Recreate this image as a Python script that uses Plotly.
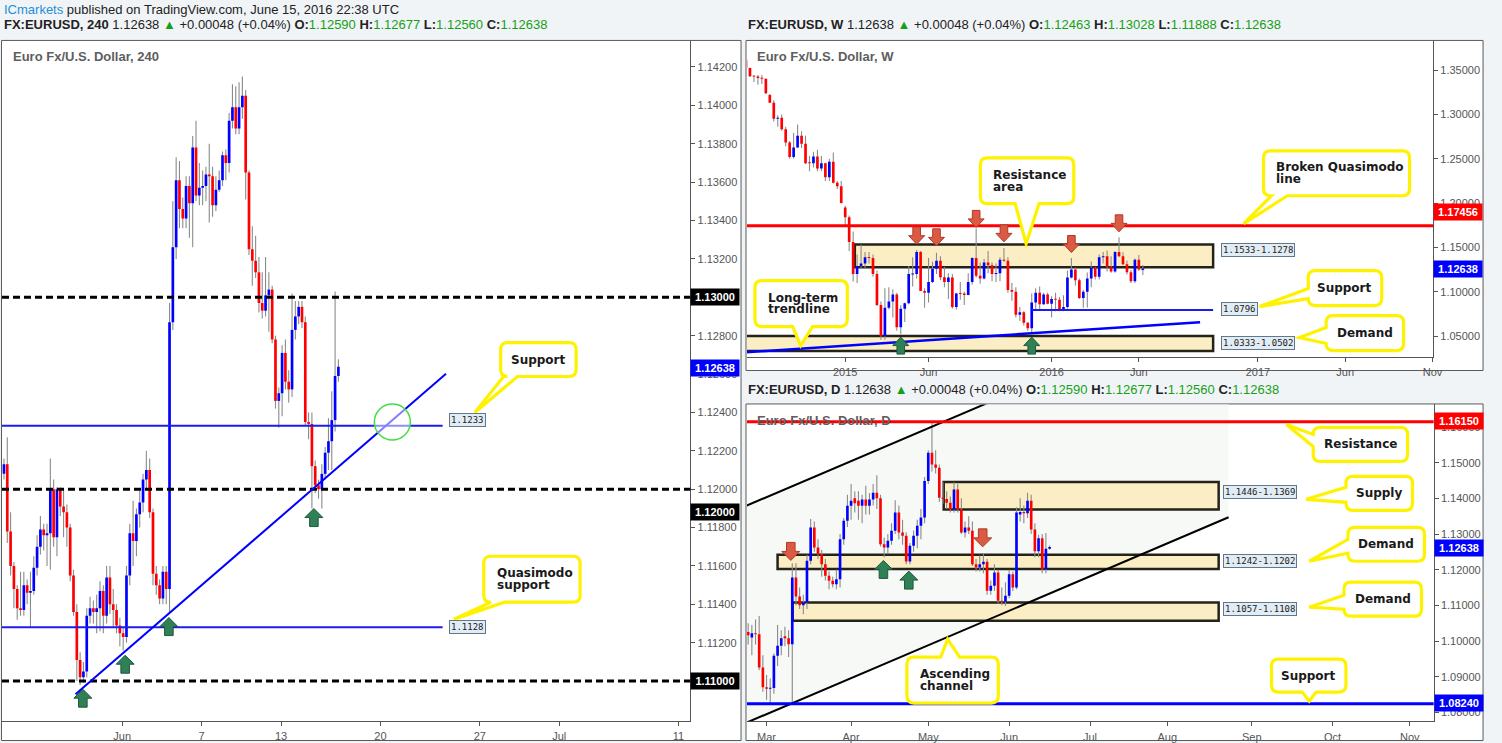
import numpy as np
import pandas as pd
import plotly.graph_objects as go

W, H = 1502, 743
PAGE_BG = "#F1F4F7"
UP, DN, WICK = "#0000FF", "#FF0000", "#8A8A8A"
FRAME = "#5A5A5A"
AX = "#555555"
TICKFONT = dict(family="Liberation Sans, Arial, sans-serif", size=11, color="#555555")

# ---------------- 4h data (EURUSD, 240) ----------------
h4_open = [
    1.1208, 1.1213, 1.1178, 1.1160, 1.1148, 1.1138, 1.1137, 1.1150, 1.1146, 1.1147,
    1.1159, 1.1170, 1.1179, 1.1176, 1.1177, 1.1200, 1.1175, 1.1200, 1.1191, 1.1188,
    1.1180, 1.1155, 1.1136, 1.1111, 1.1102, 1.1105, 1.1134, 1.1138, 1.1136, 1.1138,
    1.1147, 1.1134, 1.1154, 1.1140, 1.1137, 1.1129, 1.1125, 1.1123, 1.1155, 1.1177,
    1.1173, 1.1187, 1.1193, 1.1205, 1.1210, 1.1188, 1.1156, 1.1150, 1.1143, 1.1157,
    1.1148, 1.1287, 1.1326, 1.1361, 1.1346, 1.1341, 1.1358, 1.1349, 1.1378, 1.1353,
    1.1357, 1.1358, 1.1364, 1.1363, 1.1348, 1.1356, 1.1361, 1.1374, 1.1370, 1.1392,
    1.1399, 1.1388, 1.1399, 1.1405, 1.1365, 1.1325, 1.1319, 1.1313, 1.1297, 1.1293,
    1.1301, 1.1304, 1.1278, 1.1246, 1.1250, 1.1271, 1.1256, 1.1252, 1.1283, 1.1290,
    1.1295, 1.1287, 1.1235, 1.1234, 1.1212, 1.1202, 1.1200, 1.1208, 1.1219, 1.1225,
    1.1236, 1.1259]
h4_high = [
    1.1216, 1.1227, 1.1188, 1.1162, 1.1150, 1.1157, 1.1157, 1.1153, 1.1157, 1.1165,
    1.1176, 1.1186, 1.1182, 1.1182, 1.1216, 1.1205, 1.1201, 1.1201, 1.1200, 1.1192,
    1.1182, 1.1158, 1.1140, 1.1115, 1.1110, 1.1138, 1.1144, 1.1142, 1.1145, 1.1152,
    1.1150, 1.1160, 1.1160, 1.1148, 1.1140, 1.1133, 1.1128, 1.1160, 1.1182, 1.1194,
    1.1190, 1.1199, 1.1208, 1.1220, 1.1216, 1.1190, 1.1160, 1.1153, 1.1160, 1.1160,
    1.1297, 1.1350, 1.1373, 1.1371, 1.1352, 1.1363, 1.1363, 1.1384, 1.1392, 1.1370,
    1.1366, 1.1368, 1.1380, 1.1368, 1.1363, 1.1366, 1.1376, 1.1377, 1.1396, 1.1411,
    1.1410, 1.1412, 1.1415, 1.1408, 1.1366, 1.1337, 1.1332, 1.1321, 1.1313, 1.1321,
    1.1313, 1.1306, 1.1280, 1.1253, 1.1275, 1.1278, 1.1262, 1.1302, 1.1298, 1.1298,
    1.1298, 1.1290, 1.1240, 1.1240, 1.1215, 1.1205, 1.1213, 1.1222, 1.1237, 1.1251,
    1.1303, 1.12677]
h4_low = [
    1.1205, 1.1172, 1.1155, 1.1138, 1.1132, 1.1134, 1.1134, 1.1140, 1.1128, 1.1145,
    1.1155, 1.1166, 1.1168, 1.1160, 1.1158, 1.1170, 1.1165, 1.1186, 1.1175, 1.1170,
    1.1152, 1.1134, 1.1100, 1.1098, 1.1099, 1.1102, 1.1130, 1.1130, 1.1125, 1.1126,
    1.1125, 1.1130, 1.1135, 1.1128, 1.1125, 1.1118, 1.1116, 1.1120, 1.1150, 1.1160,
    1.1165, 1.1180, 1.1188, 1.1200, 1.1185, 1.1150, 1.1145, 1.1140, 1.1140, 1.1140,
    1.1136, 1.1283, 1.1320, 1.1336, 1.1336, 1.1336, 1.1331, 1.1326, 1.1350, 1.1348,
    1.1348, 1.1350, 1.1339, 1.1342, 1.1345, 1.1355, 1.1358, 1.1361, 1.1365, 1.1388,
    1.1385, 1.1385, 1.1393, 1.1351, 1.1322, 1.1306, 1.1310, 1.1292, 1.1289, 1.1290,
    1.1282, 1.1276, 1.1242, 1.1232, 1.1238, 1.1252, 1.1245, 1.1248, 1.1278, 1.1286,
    1.1284, 1.1233, 1.1226, 1.1190, 1.1198, 1.1195, 1.1190, 1.1205, 1.1210, 1.1210,
    1.1230, 1.1256]
h4_close = [
    1.1213, 1.1178, 1.1160, 1.1148, 1.1138, 1.1137, 1.1150, 1.1146, 1.1147, 1.1159,
    1.1170, 1.1179, 1.1176, 1.1177, 1.1200, 1.1175, 1.1200, 1.1191, 1.1188, 1.1180,
    1.1155, 1.1136, 1.1111, 1.1102, 1.1105, 1.1134, 1.1138, 1.1136, 1.1138, 1.1147,
    1.1134, 1.1154, 1.1140, 1.1137, 1.1129, 1.1125, 1.1123, 1.1155, 1.1177, 1.1173,
    1.1187, 1.1193, 1.1205, 1.1210, 1.1188, 1.1156, 1.1150, 1.1143, 1.1157, 1.1148,
    1.1287, 1.1326, 1.1361, 1.1346, 1.1341, 1.1358, 1.1349, 1.1378, 1.1353, 1.1357,
    1.1358, 1.1364, 1.1363, 1.1348, 1.1356, 1.1361, 1.1374, 1.1370, 1.1392, 1.1399,
    1.1388, 1.1399, 1.1405, 1.1365, 1.1325, 1.1319, 1.1313, 1.1297, 1.1293, 1.1301,
    1.1304, 1.1278, 1.1246, 1.1250, 1.1271, 1.1256, 1.1252, 1.1283, 1.1290, 1.1295,
    1.1287, 1.1235, 1.1234, 1.1212, 1.1202, 1.1200, 1.1208, 1.1219, 1.1225, 1.1236,
    1.1259, 1.12638]
h4_first_bar = -5.95          # trading-day position of first 4h bar (Jun 1 = 0)
h4_xticks = [0, 4, 8, 13, 18, 22, 28]
h4_xtext = ["Jun", "7", "13", "20", "27", "Jul", "11"]
h4_yticks = [1.110, 1.112, 1.114, 1.116, 1.118, 1.120, 1.122, 1.124, 1.126, 1.128,
             1.130, 1.132, 1.134, 1.136, 1.138, 1.140, 1.142]
h4_round_levels = [1.130, 1.120, 1.110]
h4_support, h4_qm_support = 1.1233, 1.1128
h4_level_end = 16.13
h4_trend_x, h4_trend_y = [-2.35, 16.3], [1.10932, 1.12601]
h4_up_arrows = [(-1.98, 1.10958), (0.15, 1.11135), (2.35, 1.11331), (9.65, 1.11899)]
h4_circle = (13.6, 1.1235)

# ---------------- Daily data ----------------
d_dates = pd.bdate_range("2016-02-23", "2016-06-16")
d_open = [1.1025, 1.1010, 1.1022, 1.1019, 1.0926,
          1.0870, 1.0866, 1.0868, 1.0959, 1.0987, 1.1013, 1.1008, 1.0991, 1.1178, 1.1125,
          1.1100, 1.1108, 1.1225, 1.1318, 1.1262, 1.1243, 1.1215, 1.1183, 1.1169, 1.1159,
          1.1173, 1.1285, 1.1337, 1.1379, 1.1400, 1.1393, 1.1379, 1.1397, 1.1379, 1.1397,
          1.1416, 1.1400, 1.1271, 1.1262, 1.1281, 1.1309, 1.1360, 1.1304, 1.1295, 1.1223,
          1.1267, 1.1295, 1.1323, 1.1346, 1.1449, 1.1528, 1.1495, 1.1486, 1.1402, 1.1398,
          1.1388, 1.1369, 1.1425, 1.1369, 1.1304, 1.1318, 1.1309, 1.1215, 1.1206, 1.1215,
          1.1222, 1.1141, 1.1155, 1.1192, 1.1113, 1.1110, 1.1127, 1.1187, 1.1150, 1.1355,
          1.1362, 1.1358, 1.1393, 1.1313, 1.1252, 1.1288, 1.1201, 1.1259]
d_high = [1.1050, 1.1045, 1.1060, 1.1070, 1.0960,
          1.0905, 1.0895, 1.0965, 1.1045, 1.1030, 1.1040, 1.1030, 1.1218, 1.1218, 1.1150,
          1.1130, 1.1242, 1.1342, 1.1335, 1.1285, 1.1255, 1.1230, 1.1195, 1.1180, 1.1200,
          1.1300, 1.1345, 1.1410, 1.1440, 1.1420, 1.1420, 1.1410, 1.1435, 1.1415, 1.1440,
          1.1465, 1.1410, 1.1290, 1.1300, 1.1330, 1.1395, 1.1380, 1.1340, 1.1305, 1.1275,
          1.1310, 1.1340, 1.1370, 1.1460, 1.1535, 1.1616, 1.1535, 1.1495, 1.1445, 1.1420,
          1.1405, 1.1445, 1.1440, 1.1400, 1.1335, 1.1350, 1.1335, 1.1230, 1.1240, 1.1245,
          1.1230, 1.1170, 1.1215, 1.1200, 1.1150, 1.1165, 1.1200, 1.1195, 1.1375, 1.1400,
          1.1380, 1.1416, 1.1410, 1.1330, 1.1298, 1.1300, 1.1303, 1.12677]
d_low = [1.0990, 1.0960, 1.0990, 1.0918, 1.0858,
         1.0835, 1.0825, 1.0852, 1.0930, 1.0960, 1.0985, 1.0955, 1.0822, 1.1100, 1.1090,
         1.1075, 1.1090, 1.1215, 1.1250, 1.1230, 1.1180, 1.1170, 1.1145, 1.1150, 1.1145,
         1.1150, 1.1270, 1.1320, 1.1340, 1.1360, 1.1340, 1.1330, 1.1355, 1.1355, 1.1380,
         1.1370, 1.1265, 1.1235, 1.1245, 1.1270, 1.1300, 1.1285, 1.1270, 1.1215, 1.1215,
         1.1250, 1.1260, 1.1285, 1.1330, 1.1440, 1.1475, 1.1470, 1.1390, 1.1385, 1.1370,
         1.1360, 1.1360, 1.1360, 1.1300, 1.1290, 1.1300, 1.1210, 1.1195, 1.1195, 1.1190,
         1.1130, 1.1130, 1.1140, 1.1105, 1.1100, 1.1098, 1.1120, 1.1140, 1.1145, 1.1335,
         1.1330, 1.1345, 1.1300, 1.1235, 1.1235, 1.1190, 1.1190, 1.1256]
d_close = [1.1016, 1.1022, 1.1019, 1.0926, 1.0870,
           1.0866, 1.0868, 1.0959, 1.0987, 1.1008, 1.1008, 1.0991, 1.1178, 1.1125, 1.1100,
           1.1108, 1.1225, 1.1318, 1.1262, 1.1243, 1.1215, 1.1183, 1.1169, 1.1159, 1.1173,
           1.1285, 1.1337, 1.1379, 1.1393, 1.1386, 1.1379, 1.1397, 1.1379, 1.1397, 1.1416,
           1.1400, 1.1271, 1.1262, 1.1281, 1.1309, 1.1360, 1.1304, 1.1295, 1.1223, 1.1267,
           1.1295, 1.1323, 1.1346, 1.1449, 1.1528, 1.1495, 1.1486, 1.1402, 1.1398, 1.1388,
           1.1369, 1.1425, 1.1369, 1.1304, 1.1318, 1.1309, 1.1215, 1.1206, 1.1215, 1.1222,
           1.1141, 1.1155, 1.1192, 1.1113, 1.1110, 1.1127, 1.1187, 1.1150, 1.1360, 1.1362,
           1.1358, 1.1393, 1.1313, 1.1252, 1.1288, 1.1201, 1.1259, 1.12638]
d_xticks = [0, 23, 44, 66, 88, 109, 132, 154, 175]
d_xtext = ["Mar", "Apr", "May", "Jun", "Jul", "Aug", "Sep", "Oct", "Nov"]
d_yticks = [1.08, 1.09, 1.10, 1.11, 1.12, 1.13, 1.14, 1.15, 1.16]
d_resistance, d_support = 1.1615, 1.0824
d_zones = [(48.2, 1.1369, 1.1446), (3.0, 1.1202, 1.1242), (7.1, 1.1057, 1.1108)]
d_zone_end = 123.0
d_channel_lower = [(-3.2, 1.0781), (125.7, 1.1347)]
d_channel_upper_start = (-5.8, 1.1378)
d_down_arrows = [(6.6, 1.1226), (58.8, 1.1264)]
d_up_arrows = [(31.8, 1.1226), (38.7, 1.1196)]

# ---------------- Weekly data ----------------
w_dates = pd.date_range("2014-07-14", "2016-06-13", freq="W-MON")
w_open = [1.3610, 1.3523, 1.3430, 1.3426, 1.3410, 1.3402, 1.3220, 1.3130, 1.2951, 1.2963,
          1.2832, 1.2683, 1.2520, 1.2627, 1.2760, 1.2670, 1.2455, 1.2450, 1.2525, 1.2390,
          1.2450, 1.2290, 1.2465, 1.2230, 1.2190,
          1.1950, 1.1840, 1.1560, 1.1200, 1.1290, 1.1320, 1.1390, 1.1380, 1.1200, 1.0850,
          1.0500, 1.0820, 1.0890, 1.0970, 1.0600, 1.0810, 1.0870, 1.1195, 1.1200, 1.1450,
          1.1010, 1.0990, 1.1110, 1.1260, 1.1350, 1.1165, 1.1110, 1.1160, 1.0830, 1.0985,
          1.0980, 1.0965, 1.1110, 1.1380, 1.1180, 1.1150, 1.1330, 1.1300, 1.1200, 1.1210,
          1.1360, 1.1350, 1.1020, 1.1000, 1.0740, 1.0770, 1.0650, 1.0590, 1.0880, 1.0990,
          1.0860, 1.0970,
          1.0865, 1.0920, 1.0910, 1.0800, 1.0830, 1.1160, 1.1250, 1.1130, 1.0930, 1.1000,
          1.1150, 1.1270, 1.1170, 1.1390, 1.1400, 1.1280, 1.1230, 1.1450, 1.1400, 1.1310,
          1.1220, 1.1120, 1.1360, 1.12463]
w_high = [1.3622, 1.3530, 1.3445, 1.3444, 1.3445, 1.3404, 1.3230, 1.3160, 1.2990, 1.3000,
          1.2860, 1.2700, 1.2790, 1.2887, 1.2810, 1.2760, 1.2530, 1.2580, 1.2600, 1.2530,
          1.2456, 1.2500, 1.2570, 1.2250, 1.2250,
          1.1970, 1.1860, 1.1680, 1.1420, 1.1530, 1.1450, 1.1450, 1.1420, 1.1240, 1.0890,
          1.1040, 1.1050, 1.1030, 1.0990, 1.0850, 1.0880, 1.1290, 1.1390, 1.1470, 1.1460,
          1.1040, 1.1380, 1.1340, 1.1440, 1.1400, 1.1280, 1.1210, 1.1200, 1.0990, 1.1110,
          1.1000, 1.1210, 1.1390, 1.1714, 1.1330, 1.1370, 1.1460, 1.1330, 1.1320, 1.1390,
          1.1495, 1.1390, 1.1100, 1.1050, 1.0830, 1.0780, 1.0660, 1.0980, 1.1040, 1.1060,
          1.0990, 1.0990,
          1.0950, 1.0990, 1.0940, 1.0960, 1.1240, 1.1380, 1.1270, 1.1150, 1.1020, 1.1218,
          1.1342, 1.1280, 1.1420, 1.1450, 1.1465, 1.1400, 1.1460, 1.1616, 1.1445, 1.1350,
          1.1245, 1.1375, 1.1416, 1.13028]
w_low = [1.3490, 1.3422, 1.3366, 1.3333, 1.3342, 1.3229, 1.3130, 1.2920, 1.2860, 1.2816,
         1.2640, 1.2500, 1.2500, 1.2620, 1.2620, 1.2440, 1.2360, 1.2400, 1.2360, 1.2360,
         1.2250, 1.2250, 1.2220, 1.2160, 1.1995,
         1.1750, 1.1460, 1.1115, 1.1100, 1.1270, 1.1260, 1.1320, 1.1170, 1.0840, 1.0460,
         1.0460, 1.0800, 1.0710, 1.0560, 1.0520, 1.0660, 1.0860, 1.1060, 1.1150, 1.1060,
         1.0820, 1.0880, 1.1100, 1.1200, 1.1130, 1.1050, 1.0920, 1.0810, 1.0800, 1.0910,
         1.0850, 1.0960, 1.1080, 1.1160, 1.1090, 1.1140, 1.1210, 1.1120, 1.1110, 1.1120,
         1.1340, 1.0990, 1.0900, 1.0710, 1.0670, 1.0620, 1.0560, 1.0520, 1.0800, 1.0800,
         1.0850, 1.0860,
         1.0710, 1.0780, 1.0780, 1.0780, 1.0810, 1.1150, 1.1070, 1.0920, 1.0820, 1.0822,
         1.1050, 1.1140, 1.1140, 1.1320, 1.1230, 1.1215, 1.1215, 1.1390, 1.1300, 1.1195,
         1.1100, 1.1098, 1.1235, 1.11888]
w_close = [1.3523, 1.3430, 1.3426, 1.3410, 1.3402, 1.3238, 1.3130, 1.2951, 1.2963, 1.2832,
           1.2683, 1.2520, 1.2627, 1.2760, 1.2670, 1.2450, 1.2450, 1.2525, 1.2390, 1.2450,
           1.2290, 1.2465, 1.2230, 1.2190, 1.2000,
           1.1840, 1.1560, 1.1200, 1.1290, 1.1320, 1.1390, 1.1380, 1.1200, 1.0850, 1.0500,
           1.0820, 1.0890, 1.0970, 1.0600, 1.0810, 1.0870, 1.1200, 1.1205, 1.1450, 1.1010,
           1.0990, 1.1110, 1.1260, 1.1350, 1.1165, 1.1110, 1.1160, 1.0830, 1.0980, 1.0975,
           1.0965, 1.1110, 1.1380, 1.1180, 1.1150, 1.1330, 1.1300, 1.1200, 1.1210, 1.1360,
           1.1350, 1.1020, 1.1000, 1.0740, 1.0770, 1.0650, 1.0590, 1.0880, 1.0990, 1.0860,
           1.0970, 1.0865,
           1.0920, 1.0910, 1.0800, 1.0830, 1.1160, 1.1250, 1.1130, 1.0930, 1.1000, 1.1150,
           1.1270, 1.1170, 1.1390, 1.1400, 1.1280, 1.1230, 1.1450, 1.1400, 1.1310, 1.1220,
           1.1120, 1.1360, 1.1252, 1.12638]
w_xtickvals = ["2015-01-05", "2015-06-01", "2016-01-04", "2016-06-06", "2017-01-02",
               "2017-06-05", "2017-11-06"]
w_xtext = ["2015", "Jun", "2016", "Jun", "2017", "Jun", "Nov"]
w_yticks = [1.05, 1.10, 1.15, 1.20, 1.25, 1.30, 1.35]
w_bq_line = 1.17456
w_res_zone = ("2015-01-22", "2016-10-15", 1.1278, 1.1533)
w_dem_zone = ("2014-06-01", "2016-10-15", 1.0333, 1.0502)
w_support = ("2015-11-30", "2016-10-15", 1.0796)
w_trend = (["2014-07-15", "2016-09-22"], [1.0319, 1.0658])
w_down_arrows = [("2015-05-11", 1.1537), ("2015-06-15", 1.1518), ("2015-08-24", 1.1726),
                 ("2015-10-12", 1.1563), ("2016-02-08", 1.1443), ("2016-05-02", 1.1676)]
w_up_arrows = [("2015-04-13", 1.0489), ("2015-11-30", 1.0489)]


def px(x):
    return x / W


def py(y):
    return 1 - y / H


fig = go.Figure()


def add_candles(x, o, h, l, c, xa, ya, body_w, wick_w, min_body):
    o, h, l, c = map(np.asarray, (o, h, l, c))
    cols = [UP if cc >= oo else DN for oo, cc in zip(o, c)]
    fig.add_trace(go.Bar(x=x, y=h - l, base=l, width=wick_w, xaxis=xa, yaxis=ya,
                         marker=dict(color=WICK, line=dict(width=0)), hoverinfo="skip"))
    fig.add_trace(go.Bar(x=x, y=np.maximum(np.abs(c - o), min_body), base=np.minimum(o, c),
                         width=body_w, xaxis=xa, yaxis=ya,
                         marker=dict(color=cols, line=dict(width=0)), hoverinfo="skip"))


assert len(h4_open) == len(h4_high) == len(h4_low) == len(h4_close)
h4_x = h4_first_bar + np.arange(len(h4_open)) / 6.0
add_candles(h4_x, h4_open, h4_high, h4_low, h4_close, "x", "y", 0.135, 0.055, 0.00006)

assert len(d_dates) == len(d_open) == len(d_high) == len(d_low) == len(d_close)
d_x = np.busday_count(np.datetime64("2016-03-01"), d_dates.values.astype("datetime64[D]"))
add_candles(d_x, d_open, d_high, d_low, d_close, "x3", "y3", 0.72, 0.3, 0.0003)

assert len(w_dates) == len(w_open) == len(w_high) == len(w_low) == len(w_close)
DAY_MS = 86400000
add_candles(w_dates, w_open, w_high, w_low, w_close, "x2", "y2", 4.7 * DAY_MS, 1.9 * DAY_MS, 0.0011)

shapes = []

# panel frames
for (x0, y0, x1, y1) in [(1.5, 40.5, 746, 741.5), (751, 40.5, 1493, 371), (751, 404.5, 1493, 741.5)]:
    shapes.append(dict(type="rect", xref="paper", yref="paper", x0=px(x0), x1=px(x1),
                       y0=py(y1), y1=py(y0), fillcolor="white", line=dict(color=FRAME, width=1),
                       layer="below"))


def arrow(xref, yref, x, y, up, color, edge, w=18, h=18):
    hw, sw, hh = w / 2, w / 4.2, h / 2
    pts = [(0, 0), (hw, -hh), (sw, -hh), (sw, -h), (-sw, -h), (-sw, -hh), (-hw, -hh)]
    if not up:
        pts = [(a, -b) for a, b in pts]
    path = "M " + " L ".join(f"{a:.2f},{b:.2f}" for a, b in pts) + " Z"
    return dict(type="path", xref=xref, yref=yref, xsizemode="pixel", ysizemode="pixel",
                xanchor=x, yanchor=y, path=path, fillcolor=color,
                line=dict(color=edge, width=1), layer="above")


GREEN, GREEN_E = "#2F7F57", "#1F5A3C"
RED_A, RED_AE = "#DA5A43", "#B03A28"

# ---- left (4h) panel drawings
for lv in h4_round_levels:
    shapes.append(dict(type="line", xref="x domain", yref="y", x0=0, x1=1, y0=lv, y1=lv,
                       line=dict(color="black", width=3, dash="7px,4px"), layer="above"))
for lv in (h4_support, h4_qm_support):
    shapes.append(dict(type="line", xref="x", yref="y", x0=h4_first_bar - 0.2, x1=h4_level_end,
                       y0=lv, y1=lv, line=dict(color="#1C1CF0", width=2), layer="above"))
shapes.append(dict(type="line", xref="x", yref="y", x0=h4_trend_x[0], x1=h4_trend_x[1],
                   y0=h4_trend_y[0], y1=h4_trend_y[1], line=dict(color="#0000FF", width=2),
                   layer="above"))
shapes.append(dict(type="circle", xref="x", yref="y", xsizemode="pixel", ysizemode="pixel",
                   xanchor=h4_circle[0], yanchor=h4_circle[1], x0=-18, x1=18, y0=-18, y1=18,
                   fillcolor="rgba(255,255,255,0.5)", line=dict(color="#44DD44", width=1.5),
                   layer="above"))
for (x, y) in h4_up_arrows:
    shapes.append(arrow("x", "y", x, y, True, GREEN, GREEN_E, 18, 18))

# ---- weekly panel drawings
for (a, b, lo, hi) in (w_res_zone, w_dem_zone):
    shapes.append(dict(type="rect", xref="x2", yref="y2", x0=a, x1=b, y0=lo, y1=hi,
                       fillcolor="#FBEEC4", line=dict(color="#24231A", width=2.5), layer="below"))
shapes.append(dict(type="line", xref="x2 domain", yref="y2", x0=0, x1=1, y0=w_bq_line,
                   y1=w_bq_line, line=dict(color="#FF0000", width=3), layer="above"))
shapes.append(dict(type="line", xref="x2", yref="y2", x0=w_support[0], x1=w_support[1],
                   y0=w_support[2], y1=w_support[2], line=dict(color="#1C1CF0", width=2),
                   layer="above"))
shapes.append(dict(type="line", xref="x2", yref="y2", x0=w_trend[0][0], x1=w_trend[0][1],
                   y0=w_trend[1][0], y1=w_trend[1][1], line=dict(color="#0000FF", width=2.5),
                   layer="above"))
for (x, y) in w_down_arrows:
    shapes.append(arrow("x2", "y2", x, y, False, RED_A, RED_AE, 16, 17))
for (x, y) in w_up_arrows:
    shapes.append(arrow("x2", "y2", x, y, True, GREEN, GREEN_E, 16, 17))

# ---- daily panel drawings
(lx0, ly0), (lx1, ly1) = d_channel_lower
slope = (ly1 - ly0) / (lx1 - lx0)
ux0, uy0 = d_channel_upper_start


def lower(x):
    return ly0 + slope * (x - lx0)


def upper(x):
    return uy0 + slope * (x - ux0)


xa, xb = -6.0, lx1
shapes.append(dict(type="path", xref="x3", yref="y3",
                   path=f"M {xa},{upper(xa)} L {xb},{upper(xb)} L {xb},{lower(xb)} L {xa},{lower(xa)} Z",
                   fillcolor="#F6F9F6", line=dict(width=0), layer="below"))
for (x0, lo, hi) in d_zones:
    shapes.append(dict(type="rect", xref="x3", yref="y3", x0=x0, x1=d_zone_end, y0=lo, y1=hi,
                       fillcolor="#FBEEC4", line=dict(color="#24231A", width=2.5), layer="below"))
shapes.append(dict(type="line", xref="x3", yref="y3", x0=xa, x1=xb, y0=lower(xa), y1=lower(xb),
                   line=dict(color="black", width=2), layer="above"))
shapes.append(dict(type="line", xref="x3", yref="y3", x0=xa, x1=80, y0=upper(xa), y1=upper(80),
                   line=dict(color="black", width=2), layer="above"))
shapes.append(dict(type="line", xref="x3 domain", yref="y3", x0=0, x1=1, y0=d_resistance,
                   y1=d_resistance, line=dict(color="#FF0000", width=3), layer="above"))
shapes.append(dict(type="line", xref="x3 domain", yref="y3", x0=0, x1=1, y0=d_support,
                   y1=d_support, line=dict(color="#0000FF", width=3), layer="above"))
for (x, y) in d_down_arrows:
    shapes.append(arrow("x3", "y3", x, y, False, RED_A, RED_AE, 18, 18))
for (x, y) in d_up_arrows:
    shapes.append(arrow("x3", "y3", x, y, True, GREEN, GREEN_E, 18, 18))


# ---- callouts (yellow speech bubbles)
def P(x, y):
    return f"{px(x):.5f},{py(y):.5f}"


def bubble(x0, y0, x1, y1, edge, b1, b2, tip, r=7):
    t = P(*tip)
    s = f"M {P(x0 + r, y0)}"
    if edge == "top":
        a, b = sorted([b1, b2])
        s += f" L {P(a, y0)} L {t} L {P(b, y0)}"
    s += f" L {P(x1 - r, y0)} Q {P(x1, y0)} {P(x1, y0 + r)}"
    s += f" L {P(x1, y1 - r)} Q {P(x1, y1)} {P(x1 - r, y1)}"
    if edge == "bottom":
        a, b = sorted([b1, b2], reverse=True)
        s += f" L {P(a, y1)} L {t} L {P(b, y1)}"
    s += f" L {P(x0 + r, y1)} Q {P(x0, y1)} {P(x0, y1 - r)}"
    if edge == "left":
        a, b = sorted([b1, b2], reverse=True)
        s += f" L {P(x0, a)} L {t} L {P(x0, b)}"
    s += f" L {P(x0, y0 + r)} Q {P(x0, y0)} {P(x0 + r, y0)} Z"
    return dict(type="path", xref="paper", yref="paper", path=s, fillcolor="white",
                line=dict(color="#FFF200", width=3.2), layer="above")


callouts = [
    (["Support"], (504, 343, 580, 377), "bottom", 507, 521, (478, 413), "center"),
    (["Quasimodo", "support"], (487, 557, 584, 603), "bottom", 494, 508, (457, 620), "left"),
    (["Resistance", "area"], (987, 158, 1081, 204), "bottom", 1022, 1046, (1033, 244), "left"),
    (["Long-term", "trendline"], (760, 281, 853, 327), "bottom", 798, 818, (806, 346), "left"),
    (["Broken Quasimodo", "line"], (1272, 151, 1419, 196), "bottom", 1280, 1296, (1252, 224), "left"),
    (["Support"], (1317, 271, 1391, 306), "left", 289, 299, (1268, 307), "center"),
    (["Demand"], (1335, 316, 1413, 351), "left", 328, 344, (1308, 338), "center"),
    (["Resistance"], (1322, 428, 1417, 462), "left", 435, 447, (1295, 425), "center"),
    (["Supply"], (1355, 477, 1422, 511), "left", 488, 503, (1315, 500), "center"),
    (["Demand"], (1357, 528, 1434, 562), "left", 540, 554, (1318, 562), "center"),
    (["Demand"], (1353, 583, 1431, 617), "left", 596, 610, (1318, 608), "center"),
    (["Support"], (1280, 660, 1355, 693), "bottom", 1311, 1325, (1318, 702), "center"),
    (["Ascending", "channel"], (913, 658, 1005, 704), "top", 947, 966, (954, 640), "left"),
]

annotations = []
CALLOUT_FONT = dict(family="DejaVu Sans, Verdana, sans-serif", size=12, color="#1A1A1A", weight="bold")
for lines, (x0, y0, x1, y1), edge, b1, b2, tip, align in callouts:
    shapes.append(bubble(x0, y0, x1, y1, edge, b1, b2, tip))
    cy = (y0 + y1) / 2
    n = len(lines)
    for i, txt in enumerate(lines):
        yy = cy + (i - (n - 1) / 2) * 11.7
        if align == "left":
            annotations.append(dict(text=txt, xref="paper", yref="paper", x=px(x0 + 11), y=py(yy),
                                    xanchor="left", yanchor="middle", showarrow=False,
                                    font=CALLOUT_FONT))
        else:
            annotations.append(dict(text=txt, xref="paper", yref="paper", x=px((x0 + x1) / 2),
                                    y=py(yy), xanchor="center", yanchor="middle",
                                    showarrow=False, font=CALLOUT_FONT))

# price tag labels next to drawings
tag_labels = [("1.1233", 452, 421), ("1.1128", 452, 627.5),
              ("1.1533-1.1278", 1229, 250.5), ("1.0796", 1229, 309.5), ("1.0333-1.0502", 1229, 343.8),
              ("1.1446-1.1369", 1231, 493), ("1.1242-1.1202", 1231, 561.3), ("1.1057-1.1108", 1231, 610.3)]
for txt, x, y in tag_labels:
    annotations.append(dict(text=txt, xref="paper", yref="paper", x=px(x), y=py(y), xanchor="left",
                            yanchor="middle", showarrow=False, bgcolor="#E2ECF4",
                            bordercolor="#61788B", borderwidth=1, borderpad=1,
                            font=dict(family="DejaVu Sans Mono, monospace", size=9, color="#222222")))

# axis price labels
axis_tags = [("1.13000", 695, 297.5, "#000000"), ("1.12638", 695, 368.3, "#0000FF"),
             ("1.12000", 695, 512.3, "#000000"), ("1.11000", 695, 682, "#000000"),
             ("1.17456", 1442.7, 212.3, "#FF0000"), ("1.12638", 1442.7, 269.3, "#0000FF"),
             ("1.16150", 1443.3, 421.7, "#FF0000"), ("1.12638", 1443.3, 548.3, "#0000FF"),
             ("1.08240", 1443.3, 704.3, "#0000FF")]
for txt, x, y, col in axis_tags:
    annotations.append(dict(text=txt, xref="paper", yref="paper", x=px(x), y=py(y), xanchor="left",
                            yanchor="middle", showarrow=False, bgcolor=col, width=46, height=14,
                            borderpad=1, align="center",
                            font=dict(family="Liberation Sans, Arial, sans-serif", size=11,
                                      color="white", weight="bold")))

# panel titles
for txt, x, y in [("Euro Fx/U.S. Dollar, 240", 11, 57), ("Euro Fx/U.S. Dollar, W", 760, 57),
                  ("Euro Fx/U.S. Dollar, D", 760, 421)]:
    annotations.append(dict(text=txt, xref="paper", yref="paper", x=px(x), y=py(y), xanchor="left",
                            yanchor="middle", showarrow=False,
                            font=dict(family="Liberation Sans, Arial, sans-serif", size=13,
                                      color="#5E5E5E", weight="bold")))

# header lines
G = "#17A017"
HEAD_FONT = dict(family="Liberation Sans Narrow, Liberation Sans, Arial, sans-serif", size=13, color="#222222")


def header(tf, o, h, l, c):
    return (f"<b>FX:EURUSD, {tf}</b> 1.12638 <span style='color:{G}'>▲</span> +0.00048 (+0.04%) "
            f"<b>O:</b><span style='color:{G}'>{o}</span> <b>H:</b><span style='color:{G}'>{h}</span> "
            f"<b>L:</b><span style='color:{G}'>{l}</span> <b>C:</b><span style='color:{G}'>{c}</span>")


annotations.append(dict(text="<span style='color:#1E8FD8'>ICmarkets</span> published on TradingView.com, June 15, 2016 22:38 UTC",
                        xref="paper", yref="paper", x=px(2), y=py(10), xanchor="left", yanchor="middle",
                        showarrow=False, font=HEAD_FONT))
annotations.append(dict(text=header("240", "1.12590", "1.12677", "1.12560", "1.12638"), xref="paper",
                        yref="paper", x=px(2), y=py(25), xanchor="left", yanchor="middle",
                        showarrow=False, font=HEAD_FONT))
annotations.append(dict(text=header("W", "1.12463", "1.13028", "1.11888", "1.12638"), xref="paper",
                        yref="paper", x=px(751), y=py(25), xanchor="left", yanchor="middle",
                        showarrow=False, font=HEAD_FONT))
annotations.append(dict(text=header("D", "1.12590", "1.12677", "1.12560", "1.12638"), xref="paper",
                        yref="paper", x=px(751), y=py(390), xanchor="left", yanchor="middle",
                        showarrow=False, font=HEAD_FONT))


def wdate(p):
    return pd.Timestamp("2015-01-05") + pd.Timedelta(days=(p - 851) / (4 / 7))


common_x = dict(showgrid=False, zeroline=False, showline=True, linecolor=AX, linewidth=1,
                ticks="outside", ticklen=4, tickcolor=AX, tickfont=TICKFONT, fixedrange=True,
                ticklabelstandoff=1)
common_y = dict(showgrid=False, zeroline=False, showline=True, linecolor=AX, linewidth=1,
                ticks="outside", ticklen=4, tickcolor=AX, tickfont=TICKFONT, side="right",
                tickformat=".5f", fixedrange=True)

fig.update_layout(
    width=W, height=H, margin=dict(l=0, r=0, t=0, b=0, pad=0),
    paper_bgcolor=PAGE_BG, plot_bgcolor="white", showlegend=False, barmode="overlay",
    hovermode=False, shapes=shapes, annotations=annotations,
    xaxis=dict(domain=[px(2), px(695)], anchor="y", range=[-6.05, 28.6],
               tickmode="array", tickvals=h4_xticks, ticktext=h4_xtext, **common_x),
    yaxis=dict(domain=[py(722), py(41.5)], anchor="x", range=[1.10792, 1.14333],
               tickmode="array", tickvals=h4_yticks, **common_y),
    xaxis2=dict(domain=[px(752), px(1442.7)], anchor="y2", type="date",
                range=[wdate(752), pd.Timestamp("2017-11-07")],
                tickmode="array", tickvals=w_xtickvals, ticktext=w_xtext, **common_x),
    yaxis2=dict(domain=[py(357), py(41.5)], anchor="x2", range=[1.02704, 1.38224],
                tickmode="array", tickvals=w_yticks, **common_y),
    xaxis3=dict(domain=[px(752), px(1443.3)], anchor="y3", range=[-5.32, 181.5],
                tickmode="array", tickvals=d_xticks, ticktext=d_xtext, **common_x),
    yaxis3=dict(domain=[py(722.3), py(405)], anchor="x3", range=[1.07748, 1.16633],
                tickmode="array", tickvals=d_yticks, **common_y),
)

fig.write_html("out.html", include_plotlyjs=True, full_html=True,
               config={"displayModeBar": False, "staticPlot": True},
               post_script="document.body.style.margin='0';document.body.style.overflow='hidden';")
